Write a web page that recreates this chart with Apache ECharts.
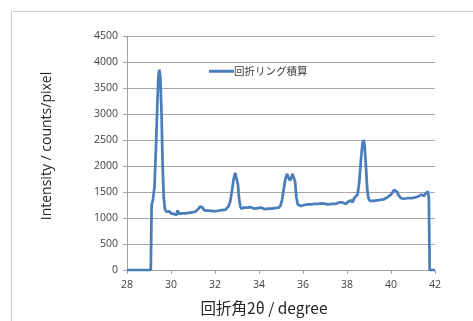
<!DOCTYPE html>
<html><head><meta charset="utf-8">
<script src="https://cdn.jsdelivr.net/npm/echarts@6/dist/echarts.min.js"></script>
<style>html,body{margin:0;padding:0;background:#fff}#c{width:473px;height:321px}</style>
</head><body><div id="c"></div>
<script>
var seriesName = '回折リング積算';
var xTitle = '回折角2θ / degree';
var yTitle = 'Intensity / counts/pixel';
var angles = [28.0,29.08,29.12,29.18,29.25,29.32,29.38,29.43,29.47,29.52,29.57,29.62,29.67,29.72,29.78,29.85,29.92,30.0,30.06,30.12,30.18,30.25,30.3,30.35,30.42,30.5,30.58,30.65,30.72,30.8,30.88,30.95,31.02,31.1,31.18,31.25,31.32,31.38,31.44,31.5,31.56,31.62,31.7,31.76,31.82,31.9,31.96,32.02,32.1,32.18,32.25,32.32,32.4,32.48,32.55,32.62,32.7,32.78,32.85,32.92,32.98,33.04,33.1,33.15,33.2,33.26,33.32,33.4,33.48,33.55,33.62,33.7,33.78,33.86,33.94,34.02,34.1,34.18,34.26,34.34,34.42,34.5,34.58,34.66,34.74,34.82,34.9,34.98,35.05,35.12,35.2,35.27,35.33,35.4,35.46,35.52,35.58,35.64,35.7,35.76,35.82,35.9,35.98,36.05,36.12,36.2,36.28,36.36,36.44,36.52,36.6,36.68,36.76,36.84,36.92,37.0,37.08,37.16,37.24,37.32,37.4,37.48,37.56,37.64,37.72,37.8,37.88,37.96,38.04,38.12,38.2,38.26,38.32,38.4,38.48,38.56,38.63,38.7,38.75,38.8,38.86,38.92,38.98,39.05,39.12,39.2,39.28,39.36,39.44,39.52,39.6,39.68,39.76,39.84,39.92,40.0,40.08,40.15,40.22,40.28,40.34,40.4,40.46,40.52,40.58,40.66,40.74,40.82,40.9,40.98,41.06,41.14,41.22,41.3,41.38,41.45,41.5,41.56,41.62,41.68,41.72,41.76,42.0];
var intensity = [0,0,1250,1350,1600,2400,3200,3750,3850,3700,3000,2000,1400,1180,1120,1100,1130,1090,1120,1080,1100,1060,1150,1080,1110,1090,1100,1090,1110,1100,1120,1110,1130,1120,1150,1180,1220,1240,1200,1150,1120,1140,1110,1140,1120,1130,1150,1130,1120,1140,1130,1150,1170,1160,1190,1230,1330,1550,1750,1870,1850,1650,1350,1220,1180,1160,1200,1180,1200,1190,1210,1200,1180,1200,1190,1180,1200,1190,1170,1190,1180,1200,1180,1200,1190,1210,1200,1240,1350,1550,1750,1850,1830,1720,1760,1850,1860,1700,1400,1260,1240,1230,1260,1250,1270,1260,1280,1260,1250,1270,1260,1270,1250,1280,1260,1270,1250,1260,1280,1270,1290,1270,1280,1300,1280,1300,1290,1270,1310,1290,1340,1300,1380,1360,1450,1700,2100,2420,2500,2400,2000,1550,1370,1330,1320,1330,1320,1340,1330,1350,1370,1360,1390,1400,1420,1450,1500,1540,1550,1500,1440,1420,1380,1400,1370,1390,1380,1390,1380,1400,1390,1400,1410,1440,1450,1480,1420,1470,1490,1510,1380,0,0];
var xTicks = [28,30,32,34,36,38,40,42];
var yTicks = [0,500,1000,1500,2000,2500,3000,3500,4000,4500];

var data = angles.map(function(a,i){return [a,intensity[i]];});
var chart = echarts.init(document.getElementById('c'), null, {renderer:'canvas'});
var tickFont = {fontFamily:'"Open Sans","Noto Sans",sans-serif', fontSize:10.5, color:'#404040'};
chart.setOption({
  animation:false,
  backgroundColor:'#fff',
  grid:{left:127,right:38,top:36,bottom:51,containLabel:false},
  legend:{
    data:[{name:seriesName, icon:'rect'}],
    left:204, top:61, itemWidth:25, itemHeight:3, itemGap:0,
    textStyle:{fontFamily:'"Noto Sans CJK JP",sans-serif', fontSize:10.5, color:'#404040', padding:[0,0,0,-5]}
  },
  xAxis:{
    type:'value', min:xTicks[0], max:xTicks[xTicks.length-1], interval:2,
    axisLine:{show:true, lineStyle:{color:'#a0a0a0', width:1}},
    axisTick:{show:true, length:4, lineStyle:{color:'#a0a0a0'}},
    axisLabel:{margin:10, formatter:function(v){return String(v);}, ...tickFont},
    splitLine:{show:false}
  },
  yAxis:{
    type:'value', min:yTicks[0], max:yTicks[yTicks.length-1], interval:500,
    axisLine:{show:true, lineStyle:{color:'#a0a0a0', width:1}},
    axisTick:{show:true, length:4, lineStyle:{color:'#a0a0a0'}},
    axisLabel:{margin:9, formatter:function(v){return String(v);}, ...tickFont},
    splitLine:{show:true, lineStyle:{color:'#a6a6a6', width:1}}
  },
  graphic:[
    {type:'rect', shape:{x:11.5,y:11.5,width:480,height:330}, style:{fill:'none', stroke:'#c8c8c8', lineWidth:1}, silent:true, z:-1},
    {type:'text', style:{text:yTitle, x:0,y:0, font:'14px "Open Sans","Noto Sans",sans-serif', fill:'#262626', textAlign:'center', textVerticalAlign:'middle'}, x:47, y:146, rotation:Math.PI/2},
    {type:'text', style:{text:xTitle, x:0,y:0, font:'15.5px "Noto Sans CJK JP",sans-serif', fill:'#262626', textAlign:'center', textVerticalAlign:'middle'}, x:264, y:308}
  ],
  series:[{
    name:seriesName, type:'line', data:data, showSymbol:false, symbol:'none',
    lineStyle:{color:'#4a7ebb', width:2.75}, itemStyle:{color:'#4a7ebb'},
    smooth:false
  }]
});
</script></body></html>
